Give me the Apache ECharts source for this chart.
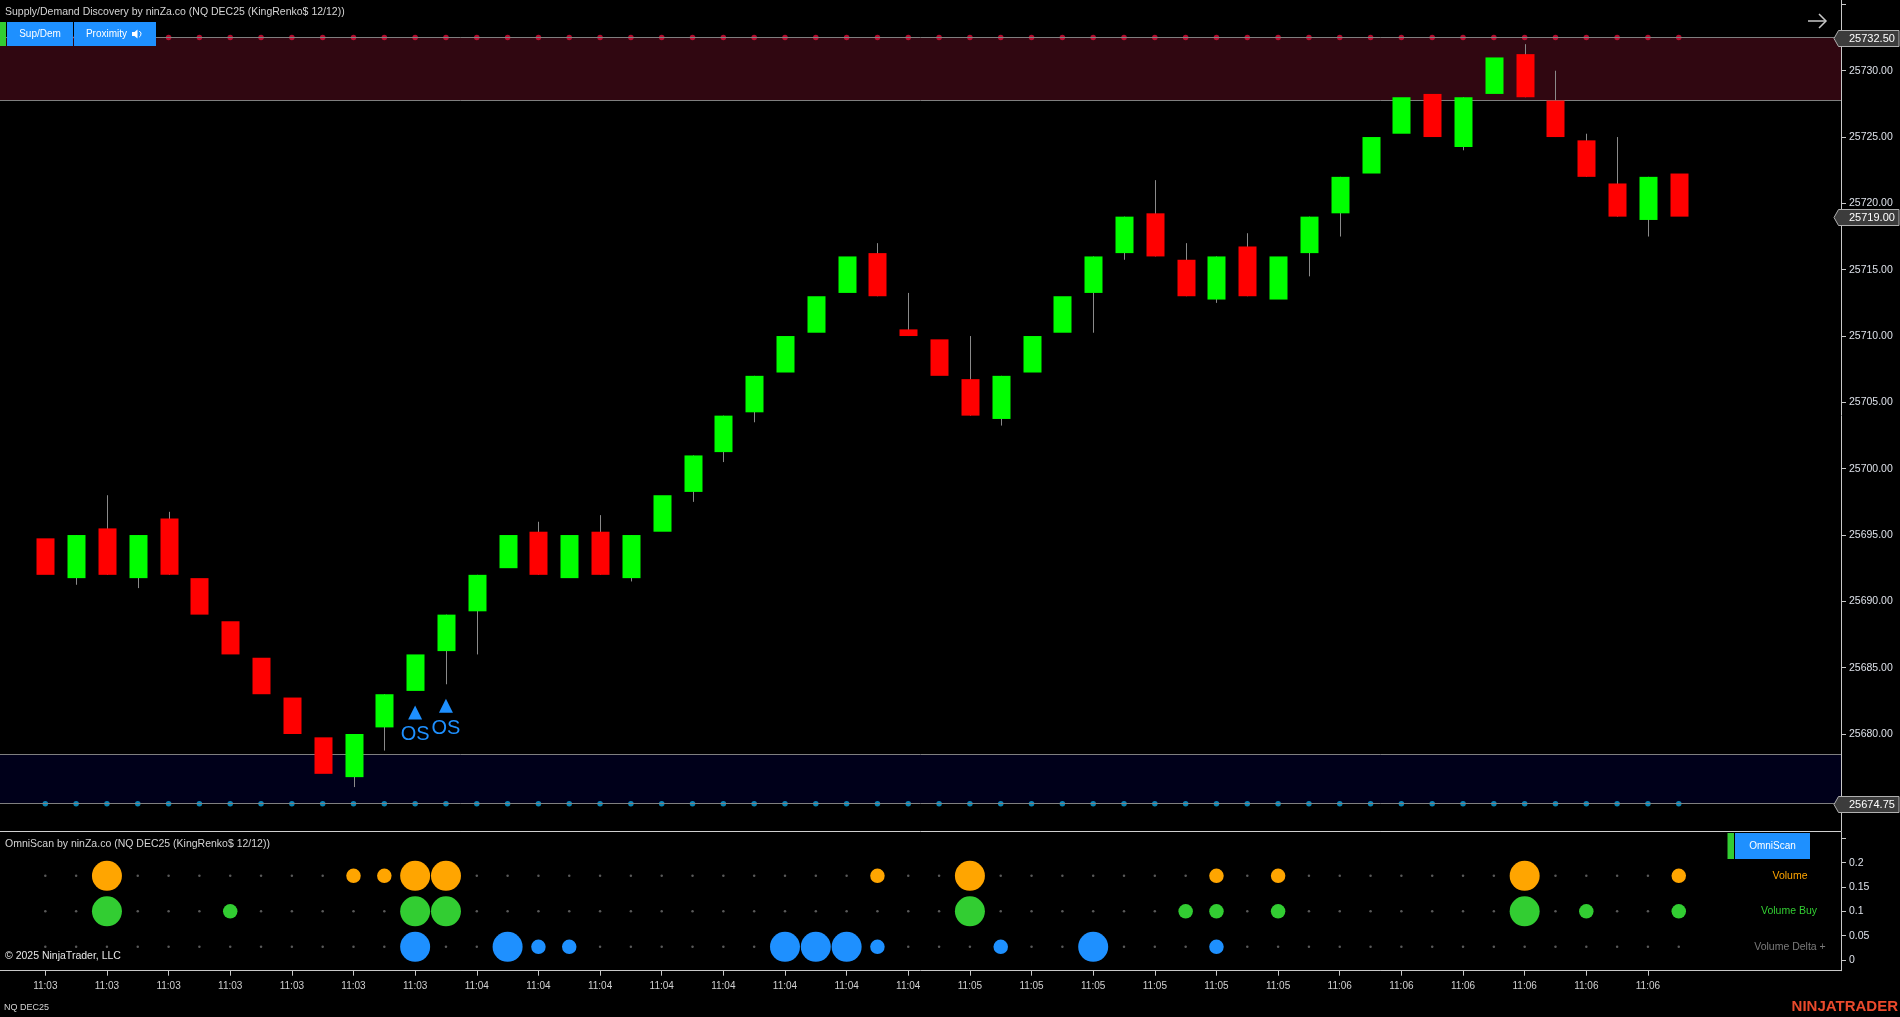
<!DOCTYPE html>
<html>
<head>
<meta charset="utf-8">
<script src="https://cdn.jsdelivr.net/npm/echarts@6/dist/echarts.min.js"></script>
<style>
html,body{margin:0;padding:0;background:#000;}
#chart{width:1900px;height:1017px;}
</style>
</head>
<body>
<div id="chart"></div>
<script>
// ---------------- DATA ----------------
const opens  = [25694.75,25691.75,25695.5,25691.75,25696.25,25691.75,25688.5,25685.75,25682.75,25679.75,
                25676.75,25680.5,25683.25,25686.25,25689.25,25692.5,25695.25,25691.75,25695.25,25691.75,
                25695.25,25698.25,25701.25,25704.25,25707.25,25710.25,25713.25,25716.25,25710.5,25709.75,
                25706.75,25703.75,25707.25,25710.25,25713.25,25716.25,25719.25,25715.75,25712.75,25716.75,
                25712.75,25716.25,25719.25,25722.25,25725.25,25728.25,25724.25,25728.25,25731.25,25727.75,
                25724.75,25721.5,25718.75,25722.25];
const closes = [25692,25695,25692,25695,25692,25689,25686,25683,25680,25677,
                25680,25683,25686,25689,25692,25695,25692,25695,25692,25695,
                25698,25701,25704,25707,25710,25713,25716,25713,25710,25707,
                25704,25707,25710,25713,25716,25719,25716,25713,25716,25713,
                25716,25719,25722,25725,25728,25725,25728,25731,25728,25725,
                25722,25719,25722,25719];
const lows   = [25692,25691.25,25692,25691,25692,25689,25686,25683,25680,25677,
                25676,25678.75,25683.25,25683.75,25686,25692.5,25692,25691.75,25692,25691.5,
                25695.25,25697.5,25700.5,25703.5,25707.25,25710.25,25713.25,25713,25710,25707,
                25704,25703.25,25707.25,25710.25,25710.25,25715.75,25716,25713,25712.5,25713,
                25712.75,25714.5,25717.5,25722.25,25725.25,25725,25724,25728.25,25728,25725,
                25722,25719,25717.5,25719];
const highs  = [25694.75,25695,25698,25695,25696.75,25691.75,25688.5,25685.75,25682.75,25679.75,
                25680,25683,25686,25689,25692,25695,25696,25695,25696.5,25695,
                25698,25701,25704,25707,25710,25713,25716,25717,25713.25,25709.75,
                25710,25707,25710,25713,25716,25719,25721.75,25717,25716,25717.75,
                25716,25719,25722,25725,25728,25728.25,25728,25731,25732,25730,
                25725.25,25725,25722,25722.25];

const timeLabels = ['11:03','11:03','11:03','11:03','11:03','11:03','11:03',
                    '11:04','11:04','11:04','11:04','11:04','11:04','11:04','11:04',
                    '11:05','11:05','11:05','11:05','11:05','11:05',
                    '11:06','11:06','11:06','11:06','11:06','11:06'];
const labelEvery = 2;

const priceLabels    = [25680,25685,25690,25695,25700,25705,25710,25715,25720,25725,25730];
const priceTickMarks = [25675,25680,25685,25690,25695,25700,25705,25710,25715,25720,25725,25730,25735];
const scanLabels     = [0,0.05,0.1,0.15,0.2];
const scanTickMarks  = [0,0.05,0.1,0.15,0.2,0.25];

const supplyZone = [25727.75, 25732.5];   // [bottom, top]
const demandZone = [25674.75, 25678.5];   // [bottom, top]
const osBars = [12, 13];

// OmniScan signal strength per bar (0 none, 1 small, 2 large)
const volumeSig      = [0,0,2,0,0,0,0,0,0,0, 1,1,2,2,0,0,0,0,0,0, 0,0,0,0,0,0,0,1,0,0, 2,0,0,0,0,0,0,0,1,0, 1,0,0,0,0,0,0,0,2,0, 0,0,0,1];
const volumeBuySig   = [0,0,2,0,0,0,1,0,0,0, 0,0,2,2,0,0,0,0,0,0, 0,0,0,0,0,0,0,0,0,0, 2,0,0,0,0,0,0,1,1,0, 1,0,0,0,0,0,0,0,2,0, 1,0,0,1];
const volumeDeltaSig = [0,0,0,0,0,0,0,0,0,0, 0,0,2,0,0,2,1,1,0,0, 0,0,0,0,2,2,2,1,0,0, 0,1,0,0,2,0,0,0,1,0, 0,0,0,0,0,0,0,0,0,0, 0,0,0,0];
const scanRows   = ['Volume','Volume Buy','Volume Delta +'];
const scanLevels = [0.173, 0.1, 0.027];

// ---------------- LAYOUT ----------------
const X_MIN = -1.47, X_MAX = 58.264;
const Y_MIN = 25672.69, Y_MAX = 25735.33;
const S_MIN = -0.022, S_MAX = 0.2631;
const FONT = '"Liberation Sans", Arial, sans-serif';
const rowColors = ['#FFA500', '#32CD32', '#1E90FF'];
const rowLabelColors = ['#FFA500', '#32CD32', '#7a7a7a'];

const N = opens.length;
const candleData = opens.map((o, i) => [i, o, closes[i], lows[i], highs[i]]);
const xTickIdx = timeLabels.map((_, k) => k * labelEvery);
const supplyDots = opens.map((_, i) => [i, supplyZone[1]]);
const demandDots = opens.map((_, i) => [i, demandZone[0]]);
const badgePrices = [supplyZone[1], closes[N - 1], demandZone[0]];

const greyDots = [];
scanLevels.forEach(lv => { for (let i = 0; i < N; i++) greyDots.push([i, lv]); });
const sigs = [volumeSig, volumeBuySig, volumeDeltaSig];

const chart = echarts.init(document.getElementById('chart'), null, {renderer: 'canvas'});

const axisCol = '#c8c8c8';

const option = {
  backgroundColor: '#000000',
  animation: false,
  grid: [
    {left: 0, right: 59, top: 0, height: 831, outerBoundsMode: 'none', containLabel: false},
    {left: 0, right: 59, top: 832, height: 138.7, outerBoundsMode: 'none', containLabel: false}
  ],
  xAxis: [
    {type: 'value', gridIndex: 0, min: X_MIN, max: X_MAX,
     axisLine: {show: true, onZero: false, lineStyle: {color: '#d0d0d0', width: 1}},
     axisTick: {show: false}, axisLabel: {show: false}, splitLine: {show: false}},
    {type: 'value', gridIndex: 1, min: X_MIN, max: X_MAX,
     axisLine: {show: true, onZero: false, lineStyle: {color: axisCol, width: 1}},
     axisTick: {show: true, length: 5, customValues: xTickIdx, lineStyle: {color: axisCol}},
     axisLabel: {show: true, customValues: xTickIdx, color: '#d0d0d0', fontSize: 10, fontFamily: FONT, margin: 11,
                 formatter: v => timeLabels[Math.round(v / labelEvery)] || ''},
     splitLine: {show: false}}
  ],
  yAxis: [
    {type: 'value', gridIndex: 0, position: 'right', min: Y_MIN, max: Y_MAX,
     axisLine: {show: true, onZero: false, lineStyle: {color: axisCol, width: 1}},
     axisTick: {show: true, length: 5, customValues: priceTickMarks, lineStyle: {color: axisCol}},
     axisLabel: {show: true, customValues: priceLabels, color: '#dce0e8', fontSize: 10.5, fontFamily: FONT, margin: 8,
                 formatter: v => Number(v).toFixed(2)},
     splitLine: {show: false}},
    {type: 'value', gridIndex: 1, position: 'right', min: S_MIN, max: S_MAX,
     axisLine: {show: true, onZero: false, lineStyle: {color: axisCol, width: 1}},
     axisTick: {show: true, length: 5, customValues: scanTickMarks, lineStyle: {color: axisCol}},
     axisLabel: {show: true, customValues: scanLabels, color: '#dce0e8', fontSize: 10.5, fontFamily: FONT, margin: 8,
                 formatter: v => String(Number(Number(v).toFixed(2)))},
     splitLine: {show: false}}
  ],
  series: [
    {
      type: 'line', name: 'zones', xAxisIndex: 0, yAxisIndex: 0, z: 1, data: [], silent: true,
      markArea: {silent: true, data: [
        [{yAxis: supplyZone[0], itemStyle: {color: '#300711'}}, {yAxis: supplyZone[1]}],
        [{yAxis: demandZone[0], itemStyle: {color: '#00001a'}}, {yAxis: demandZone[1]}]
      ]},
      markLine: {silent: true, symbol: 'none', label: {show: false},
        lineStyle: {color: '#7f7f7f', width: 1, type: 'solid'},
        data: [{yAxis: supplyZone[0]}, {yAxis: supplyZone[1]}, {yAxis: demandZone[0]}, {yAxis: demandZone[1]}]}
    },
    {
      type: 'scatter', name: 'supplyDots', xAxisIndex: 0, yAxisIndex: 0, z: 3,
      data: supplyDots, symbol: 'circle', symbolSize: 5.5,
      itemStyle: {color: '#E0103A'}, silent: true
    },
    {
      type: 'scatter', name: 'demandDots', xAxisIndex: 0, yAxisIndex: 0, z: 3,
      data: demandDots, symbol: 'circle', symbolSize: 5.5,
      itemStyle: {color: '#0BA6E0'}, silent: true
    },
    {
      type: 'custom', name: 'candles', xAxisIndex: 0, yAxisIndex: 0, z: 5, silent: true,
      data: candleData,
      renderItem: function (params, api) {
        const i = api.value(0), o = api.value(1), c = api.value(2), l = api.value(3), h = api.value(4);
        const pO = api.coord([i, o]), pC = api.coord([i, c]);
        const pL = api.coord([i, l]), pH = api.coord([i, h]);
        const w = api.size([1, 0])[0] * 0.584;
        const cx = Math.round(pO[0]) + 0.5;
        const top = Math.min(pO[1], pC[1]), bot = Math.max(pO[1], pC[1]);
        const children = [];
        if (pH[1] < top - 0.5 || pL[1] > bot + 0.5) {
          children.push({type: 'line', shape: {x1: cx, y1: pH[1], x2: cx, y2: pL[1]},
                         style: {stroke: '#8a8a8a', lineWidth: 1}});
        }
        children.push({type: 'rect', shape: {x: cx - w / 2, y: top, width: w, height: Math.max(bot - top, 1)},
                       style: {fill: c >= o ? '#00FF00' : '#FF0000'}});
        return {type: 'group', children: children};
      }
    },
    {
      type: 'custom', name: 'OS', xAxisIndex: 0, yAxisIndex: 0, z: 6, silent: true,
      data: osBars.map(i => [i, lows[i]]),
      renderItem: function (params, api) {
        const p = api.coord([api.value(0), api.value(1)]);
        const x = p[0], y = p[1];
        return {type: 'group', children: [
          {type: 'polygon', shape: {points: [[x, y + 14.5], [x - 7, y + 28.5], [x + 7, y + 28.5]]},
           style: {fill: '#1E90FF'}},
          {type: 'text', style: {text: 'OS', x: x, y: y + 44, fill: '#1E90FF', font: '20px ' + FONT,
           textAlign: 'center', textVerticalAlign: 'middle', align: 'center', verticalAlign: 'middle'}}
        ]};
      }
    },
    {
      type: 'custom', name: 'badges', xAxisIndex: 0, yAxisIndex: 0, z: 30, silent: true, clip: false,
      data: badgePrices.map(p => [X_MAX, p]),
      renderItem: function (params, api) {
        const pt = api.coord([api.value(0), api.value(1)]);
        const x = pt[0], y = Math.round(pt[1]) + 0.5;
        return {type: 'group', children: [
          {type: 'polygon', shape: {points: [[x - 7, y], [x - 2.5, y - 8], [x + 58, y - 8], [x + 58, y + 8], [x - 2.5, y + 8]]},
           style: {fill: '#3c3c3c', stroke: '#b0b0b0', lineWidth: 1}},
          {type: 'text', style: {text: Number(api.value(1)).toFixed(2), x: x + 8, y: y, fill: '#ffffff',
           font: '11px ' + FONT, textAlign: 'left', textVerticalAlign: 'middle', align: 'left', verticalAlign: 'middle'}}
        ]};
      }
    },
    {
      type: 'scatter', name: 'scanDots', xAxisIndex: 1, yAxisIndex: 1, z: 2, silent: true,
      data: greyDots, symbol: 'circle', symbolSize: 2.5, itemStyle: {color: '#707070'}
    }
  ].concat(sigs.map((arr, r) => ({
      type: 'scatter', name: scanRows[r], xAxisIndex: 1, yAxisIndex: 1, z: 4, silent: true,
      data: arr.map((s, i) => [i, scanLevels[r], s]).filter(d => d[2] > 0),
      symbol: 'circle',
      symbolSize: d => d[2] === 2 ? 30 : 14.5,
      itemStyle: {color: rowColors[r], opacity: 1}
  }))),
  graphic: {elements: [
    {type: 'text', z: 100, style: {text: 'Supply/Demand Discovery by ninZa.co (NQ DEC25 (KingRenko$ 12/12))',
      x: 5, y: 12, fill: '#d4d4d4', font: '10.5px ' + FONT, textVerticalAlign: 'middle', verticalAlign: 'middle'}},
    {type: 'rect', z: 100, shape: {x: 0, y: 22, width: 6, height: 24}, style: {fill: '#32CD32'}},
    {type: 'rect', z: 100, shape: {x: 7, y: 22, width: 66, height: 24}, style: {fill: '#1E90FF'}},
    {type: 'text', z: 101, style: {text: 'Sup/Dem', x: 40, y: 34, fill: '#ffffff', font: '10px ' + FONT,
      textAlign: 'center', align: 'center', textVerticalAlign: 'middle', verticalAlign: 'middle'}},
    {type: 'rect', z: 100, shape: {x: 74, y: 22, width: 82, height: 24}, style: {fill: '#1E90FF'}},
    {type: 'text', z: 101, style: {text: 'Proximity', x: 106.5, y: 34, fill: '#ffffff', font: '10px ' + FONT,
      textAlign: 'center', align: 'center', textVerticalAlign: 'middle', verticalAlign: 'middle'}},
    {type: 'polygon', z: 101, shape: {points: [[132, 32], [134.5, 32], [137.5, 29.5], [137.5, 38.5], [134.5, 36], [132, 36]]},
      style: {fill: '#ffffff'}},
    {type: 'arc', z: 101, shape: {cx: 137.5, cy: 34, r: 3.5, startAngle: -Math.PI / 3, endAngle: Math.PI / 3},
      style: {stroke: '#ffffff', fill: null, lineWidth: 1}},
    {type: 'polyline', z: 100, shape: {points: [[1808, 21], [1826, 21]]}, style: {stroke: '#c8c8c8', lineWidth: 1.5}},
    {type: 'polyline', z: 100, shape: {points: [[1819, 14], [1826, 21], [1819, 28]]}, style: {stroke: '#c8c8c8', lineWidth: 1.5, fill: null}},
    {type: 'text', z: 100, style: {text: 'OmniScan by ninZa.co (NQ DEC25 (KingRenko$ 12/12))',
      x: 5, y: 844, fill: '#d4d4d4', font: '10.5px ' + FONT, textVerticalAlign: 'middle', verticalAlign: 'middle'}},
    {type: 'rect', z: 100, shape: {x: 1727.5, y: 833, width: 6.5, height: 26}, style: {fill: '#32CD32'}},
    {type: 'rect', z: 100, shape: {x: 1735, y: 833, width: 75, height: 26}, style: {fill: '#1E90FF'}},
    {type: 'text', z: 101, style: {text: 'OmniScan', x: 1772.5, y: 846, fill: '#ffffff', font: '10px ' + FONT,
      textAlign: 'center', align: 'center', textVerticalAlign: 'middle', verticalAlign: 'middle'}},
    {type: 'text', z: 100, style: {text: scanRows[0], x: 1790, y: 876, fill: rowLabelColors[0], font: '10.5px ' + FONT,
      textAlign: 'center', align: 'center', textVerticalAlign: 'middle', verticalAlign: 'middle'}},
    {type: 'text', z: 100, style: {text: scanRows[1], x: 1789, y: 911, fill: rowLabelColors[1], font: '10.5px ' + FONT,
      textAlign: 'center', align: 'center', textVerticalAlign: 'middle', verticalAlign: 'middle'}},
    {type: 'text', z: 100, style: {text: scanRows[2], x: 1790, y: 947, fill: rowLabelColors[2], font: '10.5px ' + FONT,
      textAlign: 'center', align: 'center', textVerticalAlign: 'middle', verticalAlign: 'middle'}},
    {type: 'text', z: 100, style: {text: '\u00A9 2025 NinjaTrader, LLC', x: 5, y: 956, fill: '#e6e6e6', font: '10.5px ' + FONT,
      textVerticalAlign: 'middle', verticalAlign: 'middle'}},
    {type: 'text', z: 100, style: {text: 'NQ DEC25', x: 4, y: 1008, fill: '#d4d4d4', font: '9px ' + FONT,
      textVerticalAlign: 'middle', verticalAlign: 'middle'}},
    {type: 'text', z: 100, style: {text: 'NINJATRADER', x: 1898, y: 1007, fill: '#EA4A2C', font: 'bold 15px ' + FONT,
      textAlign: 'right', align: 'right', textVerticalAlign: 'middle', verticalAlign: 'middle'}}
  ]}
};

chart.setOption(option);
</script>
</body>
</html>
